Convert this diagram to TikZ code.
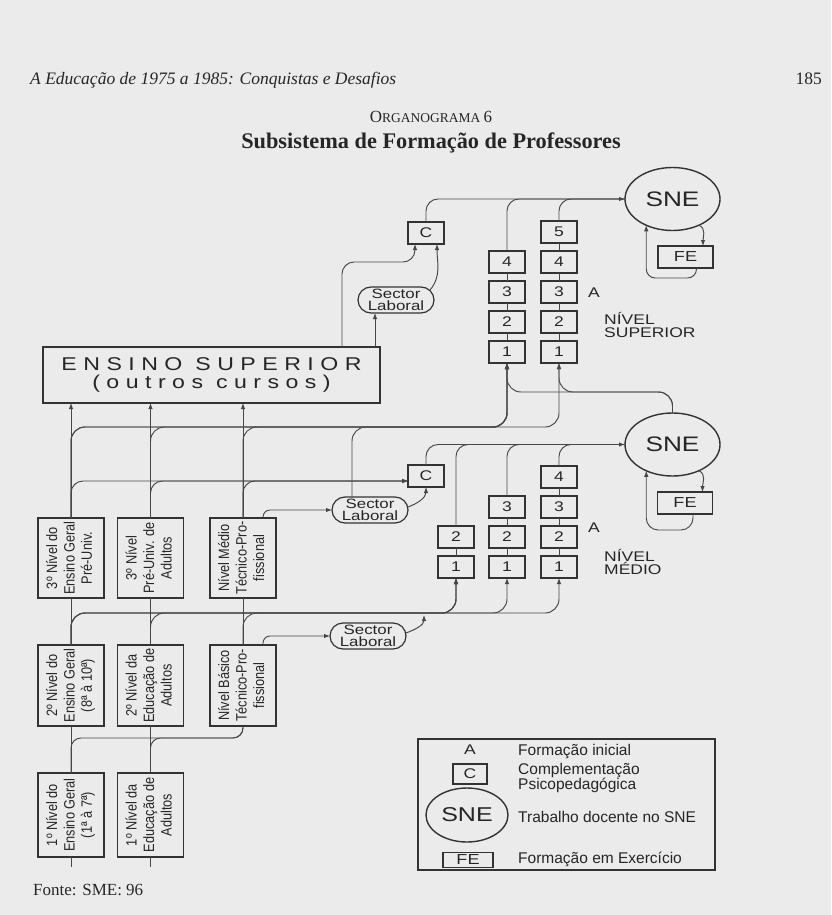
\documentclass[tikz,border=0pt]{standalone}
\usepackage{graphicx}
\usepackage{fontspec}
\setmainfont{Liberation Serif}
\setsansfont{Liberation Sans}
\newfontfamily\widesf[FakeStretch=1.25]{Liberation Sans}
\newfontfamily\narrowsf[FakeStretch=0.85]{Liberation Sans}
\newfontfamily\spacedsf[FakeStretch=1.25,LetterSpace=35]{Liberation Sans}
\usetikzlibrary{arrows.meta, positioning, shapes.geometric}

\begin{document}
\begin{tikzpicture}[
  x=1pt, y=-1pt,
  node distance=8pt,
  link/.style={draw=black!72, line width=0.95pt},
  arrow/.style={link, -{Latex[length=6pt,width=4.5pt]}},
  box/.style={rectangle, draw=black!80, line width=1.4pt, outer sep=0pt,
              inner sep=1pt, text=black!85},
  numbox/.style={box, minimum width=36pt, minimum height=22pt,
                 font=\widesf\fontsize{14}{14}\selectfont},
  febox/.style={numbox, minimum width=55pt, font=\widesf\fontsize{14.5}{14.5}\selectfont},
  levelbox/.style={box, minimum width=66pt, font=\narrowsf\fontsize{15}{17.5}\selectfont},
  sectorbox/.style={box, rounded corners=13pt, line width=1.2pt, minimum width=76pt,
                    minimum height=26pt, align=center,
                    font={\widesf\fontsize{13.5}{12}\selectfont\lineskiplimit=-20pt}},
  snecircle/.style={ellipse, draw=black!80, line width=1.4pt, outer sep=0pt,
                    minimum width=95pt, minimum height=63pt, inner sep=0pt,
                    text=black!85, font=\widesf\fontsize{21}{21}\selectfont},
  lvltag/.style={text=black!85, inner sep=0pt, align=left,
                 font={\widesf\fontsize{14}{13.5}\selectfont}},
  keytext/.style={text=black!85, inner sep=0pt, anchor=west, align=left,
                  font={\sffamily\fontsize{15.5}{14.5}\selectfont}},
  serif/.style={text=black!85, inner sep=0pt}
]
\useasboundingbox (0,0) rectangle (831,915);
\fill[black!8] (0,0) rectangle (831,915);

% heading
\node[serif, anchor=base west, font=\itshape\fontsize{17.5}{20}\selectfont] (running) at (30,85)
  {A Educação de 1975 a 1985: Conquistas e Desafios};
\node[serif, anchor=base east, font=\fontsize{17.5}{20}\selectfont] (pageno) at (822,85) {185};
\node[serif, anchor=base] (orgtitle) at (431,122)
  {\fontsize{17}{20}\selectfont O\fontsize{13.5}{20}\selectfont RGANOGRAMA \fontsize{17}{20}\selectfont 6};
\node[serif, anchor=base, font=\bfseries\fontsize{22.3}{24}\selectfont] (title) at (431,148)
  {Subsistema de Formação de Professores};

% levels of the school system
\node[box, minimum width=337pt, minimum height=56pt, align=center,
      font=\spacedsf\fontsize{18.5}{18}\selectfont] (es) at (211.5,375)
  {ENSINO SUPERIOR\\(outros cursos)};
\node[levelbox, minimum height=80pt] (p3a) at (71,558)
  {\rotatebox{90}{\begin{tabular}{@{}c@{}}3º Nível do\\Ensino Geral\\Pré-Univ.\end{tabular}}};
\node[levelbox, minimum height=80pt] (p3b) at (150.5,558)
  {\rotatebox{90}{\begin{tabular}{@{}c@{}}3º Nível\\Pré-Univ. de\\Adultos\end{tabular}}};
\node[levelbox, minimum height=80pt] (p3c) at (243,558)
  {\rotatebox{90}{\begin{tabular}{@{}c@{}}Nível Médio\\Técnico-Pro-\\fissional\end{tabular}}};
\node[levelbox, minimum height=81pt] (p2a) at (71,685.5)
  {\rotatebox{90}{\begin{tabular}{@{}c@{}}2º Nível do\\Ensino Geral\\(8ª à 10ª)\end{tabular}}};
\node[levelbox, minimum height=81pt] (p2b) at (150.5,685.5)
  {\rotatebox{90}{\begin{tabular}{@{}c@{}}2º Nível da\\Educação de\\Adultos\end{tabular}}};
\node[levelbox, minimum height=81pt] (p2c) at (243,685.5)
  {\rotatebox{90}{\begin{tabular}{@{}c@{}}Nível Básico\\Técnico-Pro-\\fissional\end{tabular}}};
\node[levelbox, minimum height=84pt] (p1a) at (71,815)
  {\rotatebox{90}{\begin{tabular}{@{}c@{}}1º Nível do\\Ensino Geral\\(1ª à 7ª)\end{tabular}}};
\node[levelbox, minimum height=84pt] (p1b) at (150.5,815)
  {\rotatebox{90}{\begin{tabular}{@{}c@{}}1º Nível da\\Educação de\\Adultos\end{tabular}}};

% sector laboral
\node[sectorbox] (sl1) at (396,300) {Sector\\Laboral};
\node[sectorbox] (sl2) at (370,510) {Sector\\Laboral};
\node[sectorbox] (sl3) at (368,636) {Sector\\Laboral};

% nivel superior
\node[numbox] (c1) at (426,233) {C};
\node[numbox] (ns11) at (507,352) {1};
\node[numbox, above=of ns11] (ns12) {2};
\node[numbox, above=of ns12] (ns13) {3};
\node[numbox, above=of ns13] (ns14) {4};
\node[numbox] (ns21) at (559,352) {1};
\node[numbox, above=of ns21] (ns22) {2};
\node[numbox, above=of ns22] (ns23) {3};
\node[numbox, above=of ns23] (ns24) {4};
\node[numbox, above=of ns24] (ns25) {5};
\node[lvltag] (aSup) at (594,293) {A};
\node[lvltag, anchor=north west] (nsTag) at (604,312) {NÍVEL\\SUPERIOR};
\node[snecircle] (sne1) at (672.5,199) {SNE};
\node[febox] (fe1) at (685.5,257) {FE};

% nivel medio
\node[numbox] (c2) at (426,476) {C};
\node[numbox] (nmb1) at (456,567) {1};
\node[numbox, above=of nmb1] (nmb2) {2};
\node[numbox] (nmc1) at (507,567) {1};
\node[numbox, above=of nmc1] (nmc2) {2};
\node[numbox, above=of nmc2] (nmc3) {3};
\node[numbox] (nmd1) at (559,567) {1};
\node[numbox, above=of nmd1] (nmd2) {2};
\node[numbox, above=of nmd2] (nmd3) {3};
\node[numbox, above=of nmd3] (nmd4) {4};
\node[lvltag] (aMed) at (594,528) {A};
\node[lvltag, anchor=north west] (nmTag) at (604,549) {NÍVEL\\MÉDIO};
\node[snecircle] (sne2) at (672.5,444.5) {SNE};
\node[febox] (fe2) at (685,503) {FE};

% levels of the connectors
\coordinate (lvlT) at (0,262);
\coordinate (lvlF1) at (0,278);
\coordinate (lvlR) at (0,392);
\coordinate (lvlS) at (0,427);
\coordinate (lvlF2) at (0,530);
\coordinate (lvlM) at (0,613);
\coordinate (lvlB) at (0,738);
\coordinate (slJoin) at (424,615);

% stacks
\draw[link] (ns11) -- (ns12) (ns12) -- (ns13) (ns13) -- (ns14);
\draw[link] (ns21) -- (ns22) (ns22) -- (ns23) (ns23) -- (ns24) (ns24) -- (ns25);
\draw[link] (nmb1) -- (nmb2);
\draw[link] (nmc1) -- (nmc2) (nmc2) -- (nmc3);
\draw[link] (nmd1) -- (nmd2) (nmd2) -- (nmd3) (nmd3) -- (nmd4);

% school columns
\draw[link] (p1a.south) -- ++(0,10);
\draw[link] (p1b.south) -- ++(0,10);
\draw[link] (p1a) -- (p2a);
\draw[link] (p1b) -- (p2b);
\draw[link] (p2a) -- (p3a);
\draw[link] (p2b) -- (p3b);
\draw[link] (p2c) -- (p3c);
\draw[arrow] (p3a.north) -- (p3a.north |- es.south);
\draw[arrow] (p3b.north) -- (p3b.north |- es.south);
\draw[arrow] (p3c.north) -- (p3c.north |- es.south);
\draw[link, rounded corners=10pt] (p1a.north) -- (p1a.north |- lvlB) -| (p2c.south);
\draw[link, rounded corners=10pt] (p1b.north) -- (p1b.north |- lvlB) -| (p2c.south);

% towards nivel medio
\draw[arrow, rounded corners=14pt] (p2a.north) -- (p2a.north |- lvlM) -| (nmb1.south);
\draw[arrow, rounded corners=14pt] (p2a.north) -- (p2a.north |- lvlM) -| (nmc1.south);
\draw[arrow, rounded corners=14pt] (p2a.north) -- (p2a.north |- lvlM) -| (nmd1.south);
\draw[arrow, rounded corners=14pt] (p2b.north) -- (p2b.north |- lvlM) -| (nmb1.south);
\draw[arrow, rounded corners=14pt] (p2c.north) -- (p2c.north |- lvlM) -| (nmb1.south);
\draw[arrow, rounded corners=7pt] ([xshift=20pt]p2c.north) |- (sl3.west);
\draw[arrow] ([yshift=3pt]sl3.east) to[out=20,in=-90] (slJoin);

% towards C of nivel medio
\draw[arrow, rounded corners=12pt] (p3a.north) |- ([yshift=-5pt]c2.west);
\draw[arrow, rounded corners=12pt] (p3b.north) |- ([yshift=-5pt]c2.west);
\draw[arrow, rounded corners=12pt] (p3c.north) |- ([yshift=-5pt]c2.west);
\draw[arrow, rounded corners=7pt] ([xshift=20pt]p3c.north) |- (sl2.west);
\draw[arrow] ([yshift=3pt]sl2.east) to[out=20,in=-90] (c2.south);

% towards nivel superior
\draw[arrow, rounded corners=14pt] (p3a.north) -- (p3a.north |- lvlS) -| (ns11.south);
\draw[arrow, rounded corners=14pt] (p3a.north) -- (p3a.north |- lvlS) -| (ns21.south);
\draw[arrow, rounded corners=14pt] (p3b.north) -- (p3b.north |- lvlS) -| (ns11.south);
\draw[arrow, rounded corners=14pt] (p3c.north) -- (p3c.north |- lvlS) -| (ns11.south);
\draw[arrow, rounded corners=14pt] ([xshift=-18pt]sl2.north) -- ([xshift=-18pt]sl2.north |- lvlS) -| (ns11.south);
\draw[arrow, rounded corners=14pt] (sne2.north) -- (sne2.north |- lvlR) -| (ns11.south);
\draw[arrow, rounded corners=14pt] (sne2.north) -- (sne2.north |- lvlR) -| (ns21.south);

% from ensino superior
\draw[arrow, rounded corners=12pt] ([xshift=130.5pt]es.north) -- ([xshift=130.5pt]es.north |- lvlT) -| ([xshift=-11pt]c1.south);
\draw[arrow] ([xshift=-21pt]sl1.south |- es.north) -- ([xshift=-21pt]sl1.south);
\draw[arrow] ([xshift=-4pt,yshift=-3pt]sl1.north east) to[out=50,in=-90] ([xshift=11pt]c1.south);

% into SNE
\draw[link, rounded corners=12pt] (ns14.north) |- (sne1.west);
\draw[link, rounded corners=12pt] (ns25.north) |- (sne1.west);
\draw[arrow, rounded corners=12pt] (c1.north) |- (sne1.west);
\draw[link, rounded corners=12pt] (nmb2.north) |- (sne2.west);
\draw[link, rounded corners=12pt] (nmc3.north) |- (sne2.west);
\draw[link, rounded corners=12pt] (nmd4.north) |- (sne2.west);
\draw[arrow, rounded corners=12pt] (c2.north) |- (sne2.west);

% SNE and FE
\draw[arrow] (sne1.-45) to[out=-20,in=90] ([xshift=-10pt]fe1.north east);
\draw[arrow, rounded corners=9pt] ([xshift=11pt]fe1.south) -- ([xshift=11pt]fe1.south |- lvlF1) -| (sne1.-135);
\draw[arrow] (sne2.-45) to[out=-20,in=90] ([xshift=-10pt]fe2.north east);
\draw[arrow, rounded corners=12pt] ([xshift=8pt]fe2.south) -- ([xshift=8pt]fe2.south |- lvlF2) -| (sne2.-135);

% legend
\node[box, line width=1.1pt, minimum width=297pt, minimum height=131pt] (key) at (566.5,804.5) {};
\node[lvltag] (keyA) at (470,750) {A};
\node[numbox, minimum width=34pt, minimum height=20pt] (keyC) at (470,774) {C};
\node[snecircle, minimum width=82pt, minimum height=54pt, font=\widesf\fontsize{20}{20}\selectfont] (keySNE) at (467,815) {SNE};
\node[febox, minimum width=50pt, minimum height=15pt] (keyFE) at (468,860) {FE};
\node[keytext] (keyAtxt) at (518,752) {Formação inicial};
\node[keytext] (keyCtxt) at (518,778) {Complementação\\Psicopedagógica};
\node[keytext] (keySNEtxt) at (518,817) {Trabalho docente no SNE};
\node[keytext] (keyFEtxt) at (518,859) {Formação em Exercício};

% source
\node[serif, anchor=base west, font=\fontsize{17}{20}\selectfont] (source) at (33,895) {Fonte: SME: 96};
\end{tikzpicture}
\end{document}
